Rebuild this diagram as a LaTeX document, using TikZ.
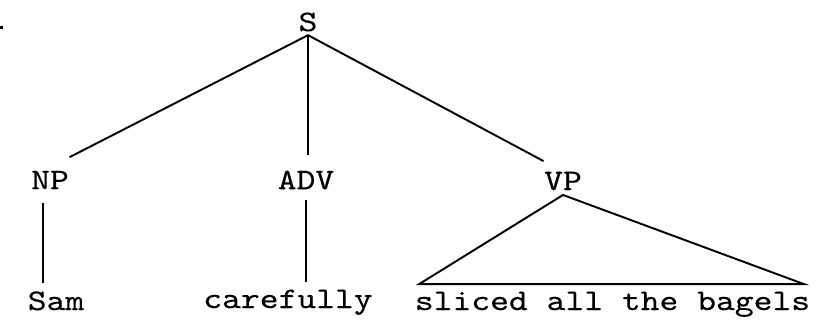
\documentclass[tikz,border=0pt]{standalone}
\usepackage{fontspec}
\setmonofont{lmmono10-regular.otf}[FakeStretch=1.2,FakeBold=0.3]
\usepackage{tikz}
\usetikzlibrary{positioning}

\tikzset{
  lbl/.style={font=\ttfamily\fontsize{8.5}{10}\selectfont, inner sep=0pt},
  branch/.style={line width=0.55pt}
}

\begin{document}
\begin{tikzpicture}
    \useasboundingbox (0,0) rectangle (8.18,-3.22);
    \fill (0,-0.26) rectangle (0.03,-0.29);
    % categories
    \node[lbl] (S) at (3.08,-0.22) {S};
    \node[lbl] (NP) at (0.50,-1.80) {NP};
    \node[lbl] (ADV) at (3.06,-1.80) {ADV};
    \node[lbl] (VP) at (5.63,-1.81) {VP};
    % words
    \node[lbl, anchor=base] (Sam) at (0.56,-3.10) {Sam};
    \node[lbl, anchor=base] (carefully) at (2.88,-3.08) {carefully};
    \node[lbl, anchor=base] (bagels) at (6.125,-3.10) {sliced all the bagels};
    % branches
    \draw[branch] ([yshift=-0.03cm]S.south) -- ([yshift=0.13cm]NP.north east);
    \draw[branch] ([yshift=-0.03cm]S.south) -- ([xshift=0.02cm,yshift=0.15cm]ADV.north);
    \draw[branch] ([yshift=-0.03cm]S.south) -- ([yshift=0.1cm]VP.north west);
    \draw[branch] ([xshift=-0.07cm,yshift=-0.13cm]NP.south) -- ([xshift=-0.13cm,yshift=0.08cm]Sam.north);
    \draw[branch] ([yshift=-0.1cm]ADV.south) -- ([xshift=0.18cm,yshift=0.07cm]carefully.north);
    \draw[branch] ([yshift=-0.04cm]VP.south) -- ([xshift=0.05cm,yshift=0.07cm]bagels.north west)
        -- ([xshift=-0.07cm,yshift=0.07cm]bagels.north east) -- cycle;
\end{tikzpicture}
\end{document}
